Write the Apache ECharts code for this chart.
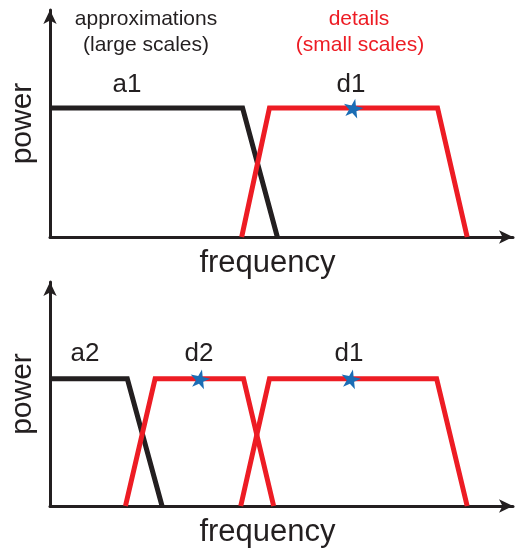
<!DOCTYPE html>
<html>
<head>
<meta charset="utf-8">
<script src="https://cdn.jsdelivr.net/npm/echarts@6/dist/echarts.min.js"></script>
<style>
  html, body { margin: 0; padding: 0; background: #fff; }
  #chart { width: 515px; height: 549px; }
</style>
</head>
<body>
<div id="chart"></div>
<script>
// frequency runs 0..100, power 0..1.76 (pass band level = 1)
var a1 = [[0, 1], [41.6, 1], [49.1, 0]];
var d1Top = [[41.4, 0], [47.4, 1], [83.7, 1], [90.1, 0]];
var a2 = [[0, 1], [16.7, 1], [24.2, 0]];
var d2 = [[16.3, 0], [22.7, 1], [41.8, 1], [48.3, 0]];
var d1Bottom = [[41.2, 0], [47.4, 1], [83.5, 1], [90.1, 0]];
var starsTop = [[65.5, 1]];
var starsBottom = [[32.4, 1], [65.0, 1]];
var headerLeft = ["approximations", "(large scales)"];
var headerRight = ["details", "(small scales)"];
var bandLabelsTop = ["a1", "d1"];
var bandLabelsBottom = ["a2", "d2", "d1"];

var BLACK = "#231f20";
var RED = "#ed1c24";
var BLUE = "#1b6db5";
var FONT = "Liberation Sans";
var star = "path://M50,0 L61,35 L98,35 L68,57 L79,91 L50,70 L21,91 L32,57 L2,35 L39,35 Z";

function xAx(idx) {
  return {
    gridIndex: idx, type: "value", min: 0, max: 100,
    name: "frequency", nameLocation: "middle", nameGap: 11,
    nameTextStyle: { fontFamily: FONT, fontSize: 31, color: BLACK, padding: [0, 28, 0, 0] },
    axisLine: { show: true, symbol: ["none", "arrow"], symbolSize: [10, 14], lineStyle: { color: BLACK, width: 3 } },
    axisTick: { show: false }, axisLabel: { show: false }, splitLine: { show: false }
  };
}
function yAx(idx) {
  return {
    gridIndex: idx, type: "value", min: 0, max: 1.76,
    name: "power", nameLocation: "middle", nameGap: 12, nameRotate: 90,
    nameTextStyle: { fontFamily: FONT, fontSize: 30, color: BLACK },
    axisLine: { show: true, symbol: ["none", "arrow"], symbolSize: [10, 14], lineStyle: { color: BLACK, width: 3 } },
    axisTick: { show: false }, axisLabel: { show: false }, splitLine: { show: false }
  };
}
function band(idx, data, color) {
  return {
    type: "line", xAxisIndex: idx, yAxisIndex: idx, data: data,
    symbol: "none", silent: true,
    lineStyle: { color: color, width: 5, join: "miter" }
  };
}
function stars(idx, data) {
  return {
    type: "scatter", xAxisIndex: idx, yAxisIndex: idx, data: data,
    symbol: star, symbolSize: 20, symbolKeepAspect: true, symbolRotate: -12,
    itemStyle: { color: BLUE, opacity: 1 }, z: 5, silent: true
  };
}
function txt(x, y, s, size, color) {
  return {
    type: "text", x: x, y: y,
    style: { text: s, fontFamily: FONT, fontSize: size, fill: color, align: "center", verticalAlign: "middle" }
  };
}

var myChart = echarts.init(document.getElementById("chart"));
myChart.setOption({
  animation: false,
  grid: [
    { left: 47, top: 10, width: 466, height: 227 },
    { left: 47, top: 282, width: 466, height: 227 }
  ],
  xAxis: [xAx(0), xAx(1)],
  yAxis: [yAx(0), yAx(1)],
  series: [
    band(0, a1, BLACK), band(0, d1Top, RED), stars(0, starsTop),
    band(1, a2, BLACK), band(1, d2, RED), band(1, d1Bottom, RED), stars(1, starsBottom)
  ],
  graphic: [
    txt(146, 19, headerLeft[0], 21, BLACK),
    txt(146, 45, headerLeft[1], 21, BLACK),
    txt(359, 19, headerRight[0], 21, RED),
    txt(360, 45, headerRight[1], 21, RED),
    txt(127, 85, bandLabelsTop[0], 26, BLACK),
    txt(351, 85, bandLabelsTop[1], 26, BLACK),
    txt(85, 354, bandLabelsBottom[0], 26, BLACK),
    txt(199, 354, bandLabelsBottom[1], 26, BLACK),
    txt(349, 354, bandLabelsBottom[2], 26, BLACK)
  ]
});
</script>
</body>
</html>
